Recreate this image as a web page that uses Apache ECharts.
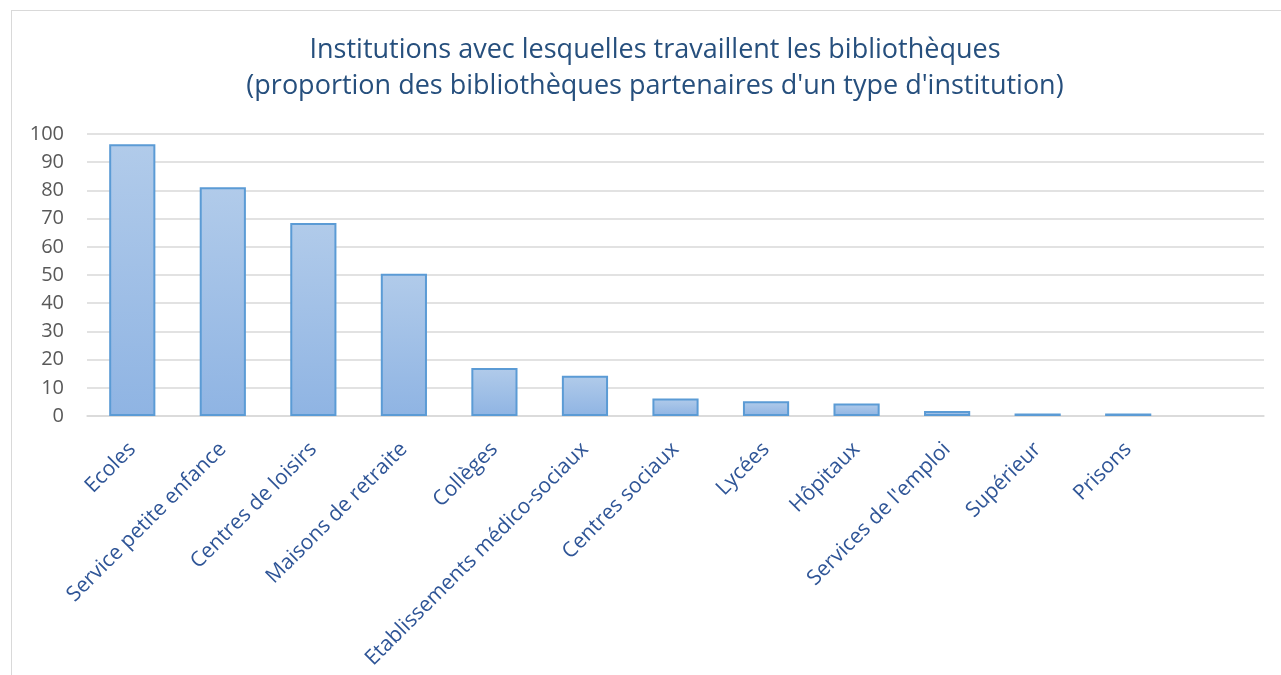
<!DOCTYPE html>
<html>
<head>
	<meta charset="UTF-8">
	<title>Institutions avec lesquelles travaillent les bibliothèques</title>
	<script src="https://cdn.jsdelivr.net/npm/echarts@6/dist/echarts.min.js"></script>
	<style>
		body { margin: 0; background: #fff; }
		#frame { position: absolute; left: 11px; top: 10px; width: 1280px; height: 680px; border: 1px solid #d9d9d9; }
		#main { position: absolute; left: 0; top: 0; width: 1281px; height: 675px; }
	</style>
</head>
<body>
<div id="frame"></div>
<div id="main"></div>
<script type="text/javascript">
	// catégories (la dernière case est vide, comme dans le graphique d'origine)
	var categories = ['Ecoles', 'Service petite enfance', 'Centres de loisirs', 'Maisons de retraite', 'Collèges',
		'Etablissements médico-sociaux', 'Centres sociaux', 'Lycées', 'Hôpitaux', "Services de l'emploi",
		'Supérieur', 'Prisons', ''];
	// proportion des bibliothèques partenaires (%)
	var values = [96.4, 81.1, 68.4, 50.4, 17.0, 14.3, 6.2, 5.2, 4.4, 1.8, 0.9, 0.9, null];
	var yTicks = { min: 0, max: 100, step: 10 };

	var myChart = echarts.init(document.getElementById('main'));

	var option = {
		animation: false,
		title: {
			text: 'Institutions avec lesquelles travaillent les bibliothèques\n(proportion des bibliothèques partenaires d\'un type d\'institution)',
			left: 650,
			textAlign: 'center',
			top: 27,
			textStyle: {
				fontFamily: 'Open Sans',
				fontSize: 27,
				fontWeight: 'normal',
				lineHeight: 36,
				color: '#264f7d'
			}
		},
		grid: {
			left: 87,
			right: 17,
			top: 134,
			bottom: 259
		},
		xAxis: {
			type: 'category',
			data: categories,
			axisLine: { lineStyle: { color: '#d9d9d9', width: 1.5 } },
			axisTick: { show: false },
			axisLabel: {
				interval: 0,
				rotate: 45,
				margin: 30,
				fontFamily: 'Open Sans',
				fontSize: 21,
				color: '#2f5597'
			}
		},
		yAxis: {
			type: 'value',
			min: yTicks.min,
			max: yTicks.max,
			interval: yTicks.step,
			axisLine: { show: false },
			axisTick: { show: false },
			splitLine: { lineStyle: { color: '#d9d9d9', width: 1.5 } },
			axisLabel: {
				margin: 23,
				fontFamily: 'Open Sans',
				fontSize: 20,
				color: '#595959'
			}
		},
		series: [{
			type: 'bar',
			data: values,
			barWidth: '51%',
			itemStyle: {
				borderColor: '#5b9bd5',
				borderWidth: 2,
				color: {
					type: 'linear', x: 0, y: 0, x2: 0, y2: 1,
					colorStops: [
						{ offset: 0, color: '#b1cbea' },
						{ offset: 1, color: '#8fb4e3' }
					]
				}
			}
		}]
	};
	myChart.setOption(option);
</script>
</body>
</html>
